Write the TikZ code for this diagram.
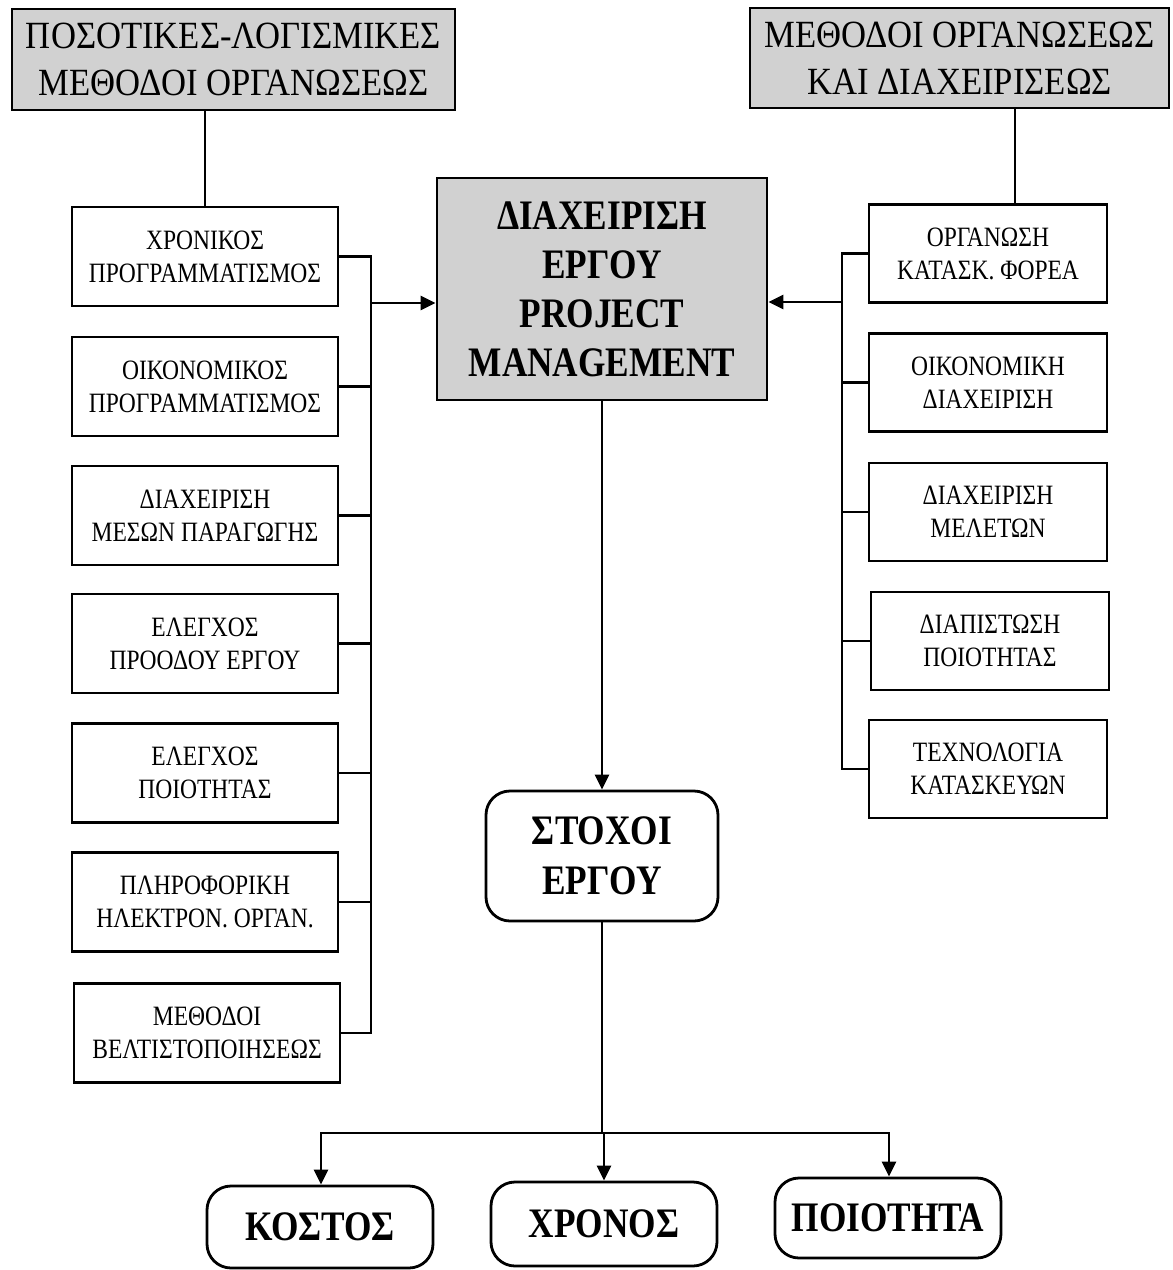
\documentclass[tikz,border=0pt]{standalone}
\usepackage{fontspec}
\setmainfont{Liberation Serif}
\newfontfamily\hdfont{Liberation Serif}[FakeStretch=0.9]
\newfontfamily\bxfont{Liberation Serif}[FakeStretch=0.84]
\usetikzlibrary{arrows.meta}
\tikzset{
  ln/.style={line width=2.8pt},
  arr/.style={ln, -{Triangle[length=15pt,width=14pt]}},
  graybox/.style={draw, ln, fill=black!18, align=center, inner sep=0pt},
  headbox/.style={graybox, font=\hdfont\fontsize{38.5}{47}\selectfont},
  mainbox/.style={graybox, font=\bxfont\bfseries\fontsize{42}{49}\selectfont},
  lbox/.style={draw, ln, fill=white, align=center, inner sep=0pt,
    minimum width=266pt, minimum height=99pt,
    font=\bxfont\fontsize{28}{33}\selectfont},
  rbox/.style={lbox, minimum width=238pt, minimum height=98pt},
  goalbox/.style={draw, ln, fill=white, rounded corners=24pt, align=center,
    inner sep=0pt, font=\bxfont\bfseries\fontsize{42}{50}\selectfont}
}
\begin{document}
\begin{tikzpicture}[x=1pt,y=-1pt]
\useasboundingbox (0,0) rectangle (1173,1270);

% headings
\node[headbox, minimum width=443pt, minimum height=101pt] (tl) at (233.5,59.5)
  {ΠΟΣΟΤΙΚΕΣ-ΛΟΓΙΣΜΙΚΕΣ\\ΜΕΘΟΔΟΙ ΟΡΓΑΝΩΣΕΩΣ};
\node[headbox, minimum width=419pt, minimum height=100pt] (tr) at (959.5,58)
  {ΜΕΘΟΔΟΙ ΟΡΓΑΝΩΣΕΩΣ\\ΚΑΙ ΔΙΑΧΕΙΡΙΣΕΩΣ};

% central box
\node[mainbox, minimum width=330pt, minimum height=222pt] (c) at (602,289)
  {ΔΙΑΧΕΙΡΙΣΗ\\ΕΡΓΟΥ\\PROJECT\\MANAGEMENT};

% left column
\node[lbox] (l1) at (205,256.5) {ΧΡΟΝΙΚΟΣ\\ΠΡΟΓΡΑΜΜΑΤΙΣΜΟΣ};
\node[lbox] (l2) at (205,386.5) {ΟΙΚΟΝΟΜΙΚΟΣ\\ΠΡΟΓΡΑΜΜΑΤΙΣΜΟΣ};
\node[lbox] (l3) at (205,515.5) {ΔΙΑΧΕΙΡΙΣΗ\\ΜΕΣΩΝ ΠΑΡΑΓΩΓΗΣ};
\node[lbox] (l4) at (205,643.5) {ΕΛΕΓΧΟΣ\\ΠΡΟΟΔΟΥ ΕΡΓΟΥ};
\node[lbox] (l5) at (205,773) {ΕΛΕΓΧΟΣ\\ΠΟΙΟΤΗΤΑΣ};
\node[lbox] (l6) at (205,902) {ΠΛΗΡΟΦΟΡΙΚΗ\\ΗΛΕΚΤΡΟΝ. ΟΡΓΑΝ.};
\node[lbox] (l7) at (207,1033) {ΜΕΘΟΔΟΙ\\ΒΕΛΤΙΣΤΟΠΟΙΗΣΕΩΣ};

% right column
\node[rbox] (r1) at (988,253.5) {ΟΡΓΑΝΩΣΗ\\ΚΑΤΑΣΚ. ΦΟΡΕΑ};
\node[rbox] (r2) at (988,382.5) {ΟΙΚΟΝΟΜΙΚΗ\\ΔΙΑΧΕΙΡΙΣΗ};
\node[rbox] (r3) at (988,512) {ΔΙΑΧΕΙΡΙΣΗ\\ΜΕΛΕΤΩΝ};
\node[rbox] (r4) at (990,641) {ΔΙΑΠΙΣΤΩΣΗ\\ΠΟΙΟΤΗΤΑΣ};
\node[rbox] (r5) at (988,769) {ΤΕΧΝΟΛΟΓΙΑ\\ΚΑΤΑΣΚΕΥΩΝ};

% goals
\node[goalbox, minimum width=232pt, minimum height=130pt] (st) at (602,856)
  {ΣΤΟΧΟΙ\\ΕΡΓΟΥ};
\node[goalbox, minimum width=226pt, minimum height=82pt] (ko) at (320,1227) {ΚΟΣΤΟΣ};
\node[goalbox, minimum width=226pt, minimum height=84pt] (xr) at (604,1224) {ΧΡΟΝΟΣ};
\node[goalbox, minimum width=226pt, minimum height=80pt] (po) at (888,1218) {ΠΟΙΟΤΗΤΑ};

% headings to their columns
\draw[ln] (tl.south -| l1.north) -- (l1.north);
\draw[ln] ([xshift=27pt]r1.north |- tr.south) -- ([xshift=27pt]r1.north);

% left bus
\coordinate (lbt) at (371,256.5);
\coordinate (lbb) at (371,1033);
\coordinate (la) at (371,303);
\draw[ln] (l1.east) -- (lbt) -- (lbb) -- (l7.east);
\foreach \i in {2,...,6} \draw[ln] (l\i.east) -- (l\i.east -| lbt);
\draw[arr] (la) -- (la -| c.west);

% right bus
\coordinate (rbt) at (842,253.5);
\coordinate (rbb) at (842,769);
\coordinate (ra) at (842,302);
\draw[ln] (r1.west) -- (rbt) -- (rbb) -- (r5.west);
\foreach \i in {2,3,4} \draw[ln] (r\i.west) -- (r\i.west -| rbt);
\draw[arr] (ra) -- (ra -| c.east);

% centre to goals
\draw[arr] (c.south) -- (c.south |- st.north);
\coordinate (gb) at (602,1133);
\draw[ln] (st.south) -- (gb);
\draw[arr] (gb) -- (gb -| xr.north) -- (xr.north);
\draw[arr] (gb) -| ([xshift=1pt]ko.north);
\draw[arr] (gb) -| ([xshift=1pt]po.north);
\end{tikzpicture}
\end{document}
